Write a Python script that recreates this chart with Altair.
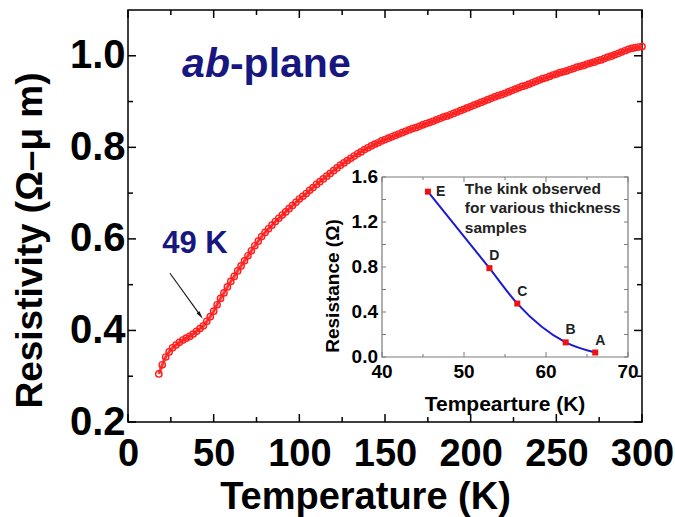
import altair as alt
import pandas as pd

# ---------------- data ----------------
# ab-plane resistivity vs temperature
temperature = [
    18, 20, 22, 24, 26, 28, 30, 32, 34, 36, 38, 40, 42, 44, 46, 48, 50, 52, 54, 56,
    58, 60, 62, 64, 66, 68, 70, 72, 74, 76, 78, 80, 82, 84, 86, 88, 90, 92, 94, 96,
    98, 100, 102, 104, 106, 108, 110, 112, 114, 116, 118, 120, 122, 124, 126, 128,
    130, 132, 134, 136, 138, 140, 142, 144, 146, 148, 150, 152, 154, 156, 158, 160,
    162, 164, 166, 168, 170, 172, 174, 176, 178, 180, 182, 184, 186, 188, 190, 192,
    194, 196, 198, 200, 202, 204, 206, 208, 210, 212, 214, 216, 218, 220, 222, 224,
    226, 228, 230, 232, 234, 236, 238, 240, 242, 244, 246, 248, 250, 252, 254, 256,
    258, 260, 262, 264, 266, 268, 270, 272, 274, 276, 278, 280, 282, 284, 286, 288,
    290, 292, 294, 296, 298, 300,
]
resistivity = [
    0.305, 0.325, 0.342, 0.353, 0.362, 0.368, 0.374, 0.379, 0.383, 0.387, 0.392,
    0.398, 0.404, 0.410, 0.420, 0.430, 0.442, 0.456, 0.470, 0.482, 0.495, 0.507,
    0.518, 0.530, 0.541, 0.552, 0.563, 0.574, 0.585, 0.595, 0.605, 0.614, 0.622,
    0.630, 0.638, 0.645, 0.652, 0.659, 0.666, 0.673, 0.680, 0.687, 0.693, 0.699,
    0.706, 0.712, 0.719, 0.725, 0.731, 0.737, 0.743, 0.749, 0.755, 0.761, 0.766,
    0.771, 0.776, 0.781, 0.786, 0.790, 0.795, 0.799, 0.803, 0.807, 0.810, 0.814,
    0.817, 0.820, 0.823, 0.826, 0.829, 0.832, 0.835, 0.838, 0.841, 0.843, 0.846,
    0.849, 0.852, 0.854, 0.857, 0.860, 0.863, 0.866, 0.868, 0.871, 0.874, 0.877,
    0.880, 0.883, 0.886, 0.889, 0.892, 0.895, 0.898, 0.901, 0.904, 0.907, 0.910,
    0.913, 0.915, 0.918, 0.921, 0.924, 0.927, 0.930, 0.933, 0.935, 0.938, 0.941,
    0.944, 0.947, 0.950, 0.952, 0.955, 0.958, 0.960, 0.963, 0.965, 0.967, 0.970,
    0.972, 0.975, 0.977, 0.979, 0.982, 0.984, 0.986, 0.989, 0.991, 0.994, 0.997,
    0.999, 1.002, 1.005, 1.008, 1.011, 1.014, 1.016, 1.018, 1.019, 1.020,
]

# kink temperature for samples of various thickness (inset)
kink_temperature = [66.0, 62.4, 56.5, 53.1, 45.6]
kink_resistance = [0.04, 0.13, 0.475, 0.79, 1.47]
kink_sample = ["A", "B", "C", "D", "E"]

# axis ticks
main_x_major = [0, 50, 100, 150, 200, 250, 300]
main_x_minor = [25, 75, 125, 175, 225, 275]
main_y_major = [0.2, 0.4, 0.6, 0.8, 1.0]
main_y_minor = [0.3, 0.5, 0.7, 0.9]
inset_x_major = [40, 50, 60, 70]
inset_x_minor = [45, 55, 65]
inset_y_ticks = [0.0, 0.2, 0.4, 0.6, 0.8, 1.0, 1.2, 1.4, 1.6]
inset_y_labels = ["0.0", "0.4", "0.8", "1.2", "1.6"]
inset_y_label_values = [0.0, 0.4, 0.8, 1.2, 1.6]
inset_x_labels = ["40", "50", "60", "70"]

# annotation anchors (data coordinates)
arrow_from = (24.5, 0.525)
arrow_to = (42.0, 0.434)
kink_label_at = (39.1, 0.589)
plane_label_at = (59.5, 0.954)
note_at = (50.1, 1.56)
note_lines = ["The kink observed", "for various thickness", "samples"]

# ---------------- styling ----------------
FONT = "Liberation Sans"
RED = "#ff1f1f"
NAVY = "#17177f"
BLUE = "#1a1ad0"
GRAY = "#7a7a7a"
W, H = 514, 412
ARROW = "M0,-1L0.38,0.7L-0.38,0.7Z"

x_main = alt.Scale(domain=[0, 300], nice=False, zero=False)
y_main = alt.Scale(domain=[0.2, 1.1], nice=False, zero=False)
x_in = alt.Scale(domain=[40, 70], nice=False, zero=False, range=[254, 500])
y_in = alt.Scale(domain=[0, 1.6], nice=False, zero=False, range=[347, 167])

single = pd.DataFrame({"k": [0]})


def vticks(values, scale, y_enc, size, down, color, thick):
    """Vertical tick marks on a horizontal frame edge, pointing inward."""
    return alt.Chart(pd.DataFrame({"v": values})).mark_tick(
        orient="vertical", size=size, thickness=thick, color=color, opacity=1,
        yOffset=(size / 2 if down else -size / 2),
    ).encode(x=alt.X("v:Q", scale=scale, axis=None), y=y_enc)


def hticks(values, scale, x_enc, size, right, color, thick):
    """Horizontal tick marks on a vertical frame edge, pointing inward."""
    return alt.Chart(pd.DataFrame({"v": values})).mark_tick(
        orient="horizontal", size=size, thickness=thick, color=color, opacity=1,
        xOffset=(size / 2 if right else -size / 2),
    ).encode(y=alt.Y("v:Q", scale=scale, axis=None), x=x_enc)


def at(xv, yv, xs, ys):
    return dict(x=alt.XDatum(xv, scale=xs, axis=None), y=alt.YDatum(yv, scale=ys, axis=None))


# ---------------- main panel ----------------
curve = pd.DataFrame({"T": temperature, "rho": resistivity})

x_axis = alt.Axis(
    values=main_x_major, ticks=False, domain=False, grid=False,
    labelFont=FONT, labelFontSize=38, labelFontWeight="bold", labelColor="black",
    labelPadding=13, labelFlush=False, labelOverlap=False,
    title="Temperature (K)", titleFont=FONT, titleFontSize=38, titleFontWeight="bold",
    titleColor="black", titleX=237, titleY=86, titleAlign="center",
    titleBaseline="alphabetic",
)
y_axis = alt.Axis(
    values=main_y_major, format=".1f", ticks=False, domain=False, grid=False,
    labelFont=FONT, labelFontSize=40, labelFontWeight="bold", labelColor="black",
    labelPadding=3, labelOverlap=False,
    title="Resistivity (Ω–μ m)", titleFont=FONT, titleFontSize=37,
    titleFontWeight="bold", titleColor="black", titleAngle=270,
    titleX=-98, titleY=230, titleAlign="center", titleBaseline="middle",
)

band = alt.Chart(curve).mark_line(color=RED, strokeWidth=3, opacity=0.9).encode(
    x=alt.X("T:Q", scale=x_main, axis=x_axis),
    y=alt.Y("rho:Q", scale=y_main, axis=y_axis),
    order="T:Q",
)
points = alt.Chart(curve).mark_point(
    shape="circle", filled=False, color=RED, size=40, strokeWidth=1.4, opacity=1
).encode(
    x=alt.X("T:Q", scale=x_main, axis=None),
    y=alt.Y("rho:Q", scale=y_main, axis=None),
)

main_ticks = [
    vticks(main_x_major, x_main, alt.value(H), 8, False, "black", 1.5),
    vticks(main_x_minor, x_main, alt.value(H), 5, False, "black", 1.5),
    vticks(main_x_major, x_main, alt.value(0), 8, True, "black", 1.5),
    vticks(main_x_minor, x_main, alt.value(0), 5, True, "black", 1.5),
    hticks(main_y_major, y_main, alt.value(0), 8, True, "black", 1.5),
    hticks(main_y_minor, y_main, alt.value(0), 5, True, "black", 1.5),
    hticks(main_y_major, y_main, alt.value(W), 8, False, "black", 1.5),
    hticks(main_y_minor, y_main, alt.value(W), 5, False, "black", 1.5),
]

ab_text = alt.Chart(single).mark_text(
    text="ab", font=FONT, fontSize=41, fontWeight="bold", fontStyle="italic",
    color=NAVY, align="right", baseline="alphabetic",
).encode(**at(*plane_label_at, x_main, y_main))
plane_text = alt.Chart(single).mark_text(
    text="-plane", font=FONT, fontSize=41, fontWeight="bold",
    color=NAVY, align="left", baseline="alphabetic",
).encode(**at(*plane_label_at, x_main, y_main))
kink_text = alt.Chart(single).mark_text(
    text="49 K", font=FONT, fontSize=31, fontWeight="bold",
    color=NAVY, align="center", baseline="middle",
).encode(**at(*kink_label_at, x_main, y_main))
arrow_line = alt.Chart(single).mark_rule(color="#111111", strokeWidth=1.1).encode(
    x=alt.XDatum(arrow_from[0], scale=x_main, axis=None),
    x2=alt.X2Datum(arrow_to[0]),
    y=alt.YDatum(arrow_from[1], scale=y_main, axis=None),
    y2=alt.Y2Datum(arrow_to[1]),
)
arrow_head = alt.Chart(single).mark_point(
    shape=ARROW, angle=144, size=90, filled=True, color="#111111",
    strokeWidth=0, opacity=1,
).encode(**at(*arrow_to, x_main, y_main))

# ---------------- inset ----------------
kinks = pd.DataFrame({"T": kink_temperature, "R": kink_resistance, "s": kink_sample})

frame = alt.Chart(single).mark_rect(fill="white", stroke=GRAY, strokeWidth=1.2).encode(
    x=alt.XDatum(inset_x_major[0], scale=x_in, axis=None),
    x2=alt.X2Datum(inset_x_major[-1]),
    y=alt.YDatum(inset_y_ticks[0], scale=y_in, axis=None),
    y2=alt.Y2Datum(inset_y_ticks[-1]),
)

y_bottom = alt.YDatum(inset_y_ticks[0], scale=y_in, axis=None)
y_top = alt.YDatum(inset_y_ticks[-1], scale=y_in, axis=None)
x_left = alt.XDatum(inset_x_major[0], scale=x_in, axis=None)
x_right = alt.XDatum(inset_x_major[-1], scale=x_in, axis=None)

inset_ticks = [
    vticks(inset_x_major, x_in, y_bottom, 5, False, GRAY, 1),
    vticks(inset_x_minor, x_in, y_bottom, 3, False, GRAY, 1),
    vticks(inset_x_major, x_in, y_top, 5, True, GRAY, 1),
    vticks(inset_x_minor, x_in, y_top, 3, True, GRAY, 1),
    hticks(inset_y_ticks, y_in, x_left, 4, True, GRAY, 1),
    hticks(inset_y_ticks, y_in, x_right, 4, False, GRAY, 1),
]

kink_line = alt.Chart(kinks).mark_line(
    color=BLUE, strokeWidth=2, interpolate="monotone"
).encode(
    x=alt.X("T:Q", scale=x_in, axis=None),
    y=alt.Y("R:Q", scale=y_in, axis=None),
    order="T:Q",
)
kink_pts = alt.Chart(kinks).mark_square(size=36, color="#ee1111", opacity=1).encode(
    x=alt.X("T:Q", scale=x_in, axis=None),
    y=alt.Y("R:Q", scale=y_in, axis=None),
)
label_e = alt.Chart(kinks).transform_filter(alt.datum.s == "E").mark_text(
    font=FONT, fontSize=14, fontWeight="bold", color="#222222",
    align="left", baseline="middle", dx=8,
).encode(
    x=alt.X("T:Q", scale=x_in, axis=None),
    y=alt.Y("R:Q", scale=y_in, axis=None),
    text="s:N",
)
label_rest = alt.Chart(kinks).transform_filter(alt.datum.s != "E").mark_text(
    font=FONT, fontSize=14, fontWeight="bold", color="#222222",
    align="center", baseline="middle", dx=5, dy=-12,
).encode(
    x=alt.X("T:Q", scale=x_in, axis=None),
    y=alt.Y("R:Q", scale=y_in, axis=None),
    text="s:N",
)

ylab = alt.Chart(pd.DataFrame({"v": inset_y_label_values, "t": inset_y_labels})).mark_text(
    font=FONT, fontSize=19, fontWeight="bold", color="black",
    align="right", baseline="middle", dx=-4,
).encode(
    x=x_left, y=alt.Y("v:Q", scale=y_in, axis=None), text="t:N",
)
xlab = alt.Chart(pd.DataFrame({"v": inset_x_major, "t": inset_x_labels})).mark_text(
    font=FONT, fontSize=19, fontWeight="bold", color="black",
    align="center", baseline="top", dy=6,
).encode(
    x=alt.X("v:Q", scale=x_in, axis=None), y=y_bottom, text="t:N",
)
xtitle = alt.Chart(single).mark_text(
    text="Tempearture (K)", font=FONT, fontSize=21, fontWeight="bold", color="black",
    align="center", baseline="middle", yOffset=48,
).encode(x=alt.XDatum(55, scale=x_in, axis=None), y=y_bottom)
ytitle = alt.Chart(single).mark_text(
    text="Resistance (Ω)", font=FONT, fontSize=19, fontWeight="bold", color="black",
    align="center", baseline="middle", angle=270, xOffset=-49, yOffset=19,
).encode(x=x_left, y=alt.YDatum(0.8, scale=y_in, axis=None))
note = alt.Chart(single).mark_text(
    text=note_lines, font=FONT, fontSize=15.5, fontWeight="bold", color="#222222",
    align="left", baseline="top", lineHeight=19.5,
).encode(**at(*note_at, x_in, y_in))

chart = alt.layer(
    band, points, *main_ticks, ab_text, plane_text, kink_text, arrow_line, arrow_head,
    frame, *inset_ticks, kink_line, kink_pts, label_e, label_rest,
    ylab, xlab, xtitle, ytitle, note,
).resolve_scale(
    x="independent", y="independent"
).properties(
    width=W, height=H,
    autosize=alt.AutoSizeParams(type="none"),
    padding={"left": 128, "top": 10, "right": 33, "bottom": 95},
).configure_view(stroke="black", strokeWidth=1.5)

chart.save("out.html", embed_options={"renderer": "svg", "actions": False})
